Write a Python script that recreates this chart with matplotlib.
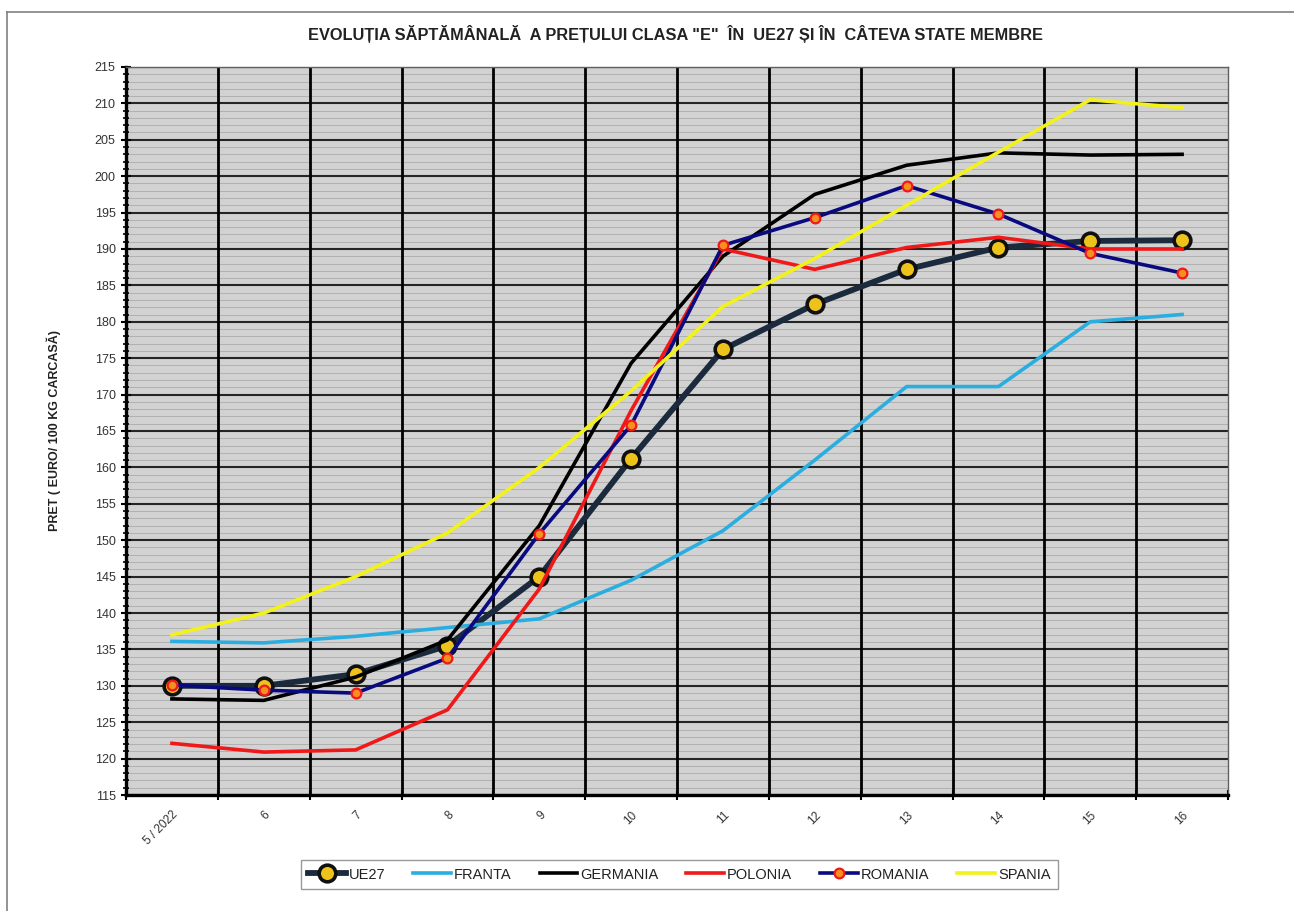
import matplotlib
matplotlib.use('Agg')
import matplotlib.pyplot as plt
import matplotlib.lines as mlines
from matplotlib.ticker import MultipleLocator

plt.rcParams['font.family'] = ['Liberation Sans', 'DejaVu Sans']

weeks = ['5 / 2022', '6', '7', '8', '9', '10', '11', '12', '13', '14', '15', '16']

ue27 = [130.0, 130.0, 131.6, 135.5, 145.0, 161.2, 176.2, 182.4, 187.2, 190.2, 191.1, 191.2]
franta = [136.1, 135.9, 136.8, 138.0, 139.2, 144.5, 151.3, 161.0, 171.1, 171.1, 180.0, 181.0]
germania = [128.2, 128.0, 131.2, 136.3, 152.0, 174.3, 189.0, 197.5, 201.5, 203.2, 202.9, 203.0]
polonia = [122.1, 120.9, 121.2, 126.7, 143.3, 167.8, 190.0, 187.2, 190.2, 191.6, 190.0, 190.0]
romania = [130.1, 129.4, 129.0, 133.8, 150.9, 165.8, 190.5, 194.3, 198.7, 194.8, 189.4, 186.7]
spania = [137.0, 140.0, 145.0, 151.0, 160.0, 170.5, 182.1, 188.7, 196.0, 203.3, 210.5, 209.4]

fig = plt.figure(figsize=(12.94, 9.11), dpi=100)
ax = fig.add_axes([0.0974, 0.1273, 0.8516, 0.7992])
ax.set_facecolor('#D2D2D2')

# chart area frame (top and left edges visible in the original)
fig.add_artist(mlines.Line2D([7 / 1294, 1.0], [1 - 12 / 911, 1 - 12 / 911],
	transform=fig.transFigure, color='#808080', lw=1.2))
fig.add_artist(mlines.Line2D([7 / 1294, 7 / 1294], [0.0, 1 - 12 / 911],
	transform=fig.transFigure, color='#808080', lw=1.2))

x = list(range(len(weeks)))

# minor horizontal stripes every unit, major lines every 5
for v in range(116, 215):
	if v % 5:
		ax.axhline(v, color='#B0B0B0', lw=0.7, zorder=0)
for v in range(115, 216, 5):
	ax.axhline(v, color='#252525', lw=1.5, zorder=1)
for b in range(1, len(weeks)):
	ax.axvline(b - 0.5, color='black', lw=2.0, zorder=1)

ax.plot(x, ue27, color='#1C2A3E', lw=4.2, marker='o', ms=12, mfc='#EDC21A',
	mec='#101010', mew=2.6, label='UE27', zorder=3)
ax.plot(x, franta, color='#2AAEE0', lw=2.6, label='FRANTA', zorder=3)
ax.plot(x, germania, color='black', lw=2.6, label='GERMANIA', zorder=3)
ax.plot(x, polonia, color='#F01818', lw=2.6, label='POLONIA', zorder=3)
ax.plot(x, romania, color='#0A0A80', lw=2.6, marker='o', ms=7, mfc='#F59020',
	mec='#F01818', mew=1.6, label='ROMANIA', zorder=3)
ax.plot(x, spania, color='#F2F21A', lw=2.6, label='SPANIA', zorder=3)

ax.set_xlim(-0.5, len(weeks) - 0.5)
ax.set_ylim(115, 215)
ax.yaxis.set_major_locator(MultipleLocator(5))
ax.yaxis.set_minor_locator(MultipleLocator(1))
ax.tick_params(axis='y', which='major', direction='inout', length=7, width=1.5,
	labelsize=9, labelcolor='#333333', pad=4)
ax.tick_params(axis='y', which='minor', direction='inout', length=4, width=1.2)

ax.set_xticks(x)
ax.set_xticklabels(weeks, rotation=45, ha='right', va='top', fontsize=8.5,
	color='#333333', rotation_mode='anchor')
ax.tick_params(axis='x', which='major', length=0, pad=10)
ax.set_xticks([b - 0.5 for b in range(len(weeks) + 1)], minor=True)
ax.tick_params(axis='x', which='minor', direction='inout', length=7, width=1.5)

for side in ['left', 'bottom']:
	ax.spines[side].set_linewidth(2.4)
	ax.spines[side].set_color('black')
for side in ['top', 'right']:
	ax.spines[side].set_linewidth(1.0)
	ax.spines[side].set_color('#606060')

ax.set_ylabel('PRET ( EURO/ 100 KG CARCASĂ)', fontsize=9, fontweight='bold',
	color='#222222', labelpad=24)

fig.text(0.522, 0.963, 'EVOLUȚIA SĂPTĂMÂNALĂ  A PREȚULUI CLASA "E"  ÎN  UE27 ȘI ÎN  CÂTEVA STATE MEMBRE',
	ha='center', va='center', fontsize=11.8, fontweight='bold', color='#222222')

leg = fig.legend(loc='center', bbox_to_anchor=(0.525, 0.04), ncol=6, fontsize=10.5,
	frameon=True, fancybox=False, edgecolor='#808080', handlelength=2.6,
	handletextpad=0.2, columnspacing=1.9, borderpad=0.5)
leg.get_frame().set_linewidth(1.0)
for t in leg.get_texts():
	t.set_color('#222222')

fig.savefig('out.png', dpi=100)
